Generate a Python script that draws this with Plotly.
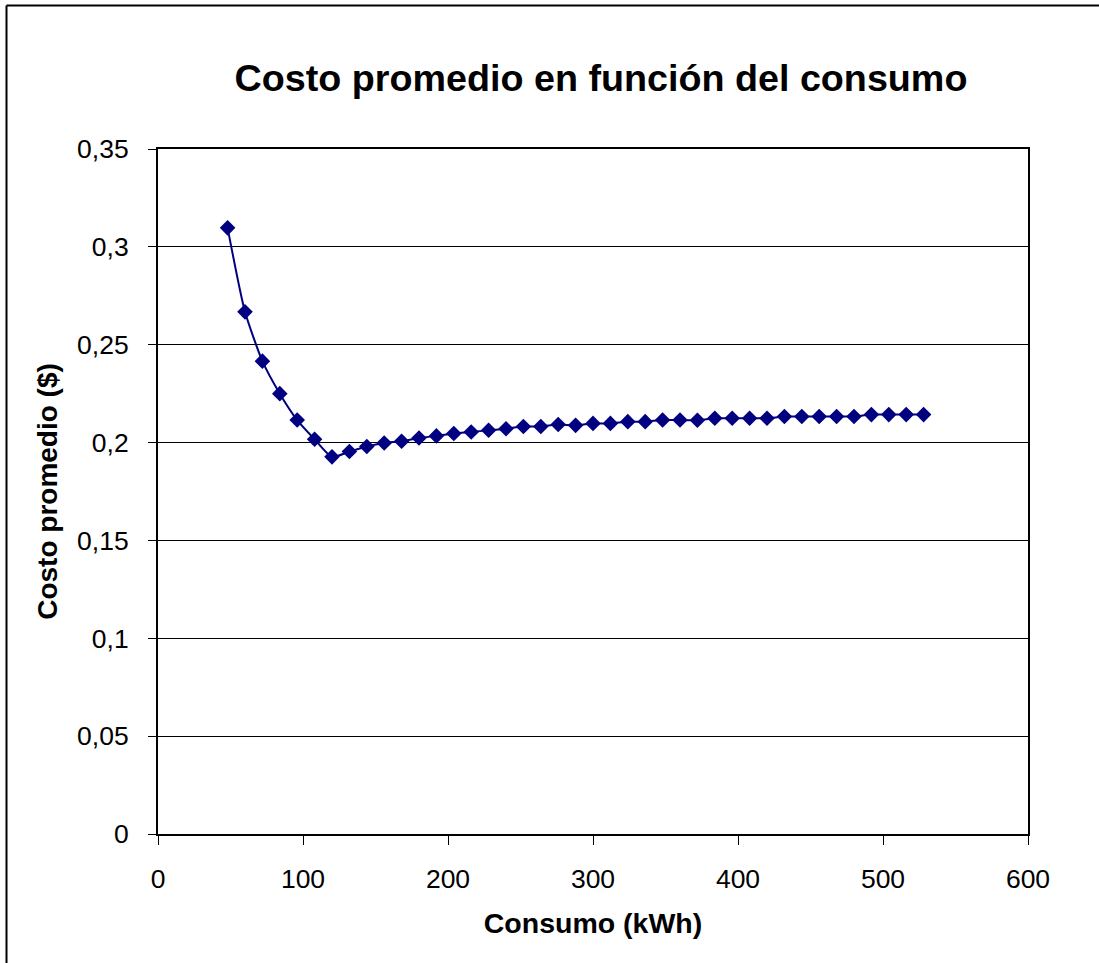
import plotly.graph_objects as go

consumo = [48, 60, 72, 84, 96, 108, 120, 132, 144, 156, 168, 180, 192, 204, 216, 228,
           240, 252, 264, 276, 288, 300, 312, 324, 336, 348, 360, 372, 384, 396, 408,
           420, 432, 444, 456, 468, 480, 492, 504, 516, 528]
costo = [0.3097, 0.2668, 0.2416, 0.2250, 0.2115, 0.2017, 0.1927, 0.1954, 0.1980, 0.1998,
         0.2007, 0.2023, 0.2034, 0.2046, 0.2054, 0.2063, 0.2071, 0.2082, 0.2082, 0.2092,
         0.2088, 0.2098, 0.2098, 0.2107, 0.2107, 0.2115, 0.2115, 0.2114, 0.2124, 0.2124,
         0.2124, 0.2124, 0.2133, 0.2133, 0.2133, 0.2133, 0.2133, 0.2143, 0.2143, 0.2143,
         0.2143]

title_text = "Costo promedio en función del consumo"
x_title = "Consumo (kWh)"
y_title = "Costo promedio ($)"

W, H = 1099, 963
L, R, T, B = 158, 1028, 149, 834
FONT = "Liberation Sans, Arial, sans-serif"
NAVY = "#000080"

fig = go.Figure()
fig.add_trace(go.Scatter(
    x=consumo, y=costo, mode="lines+markers",
    line=dict(color=NAVY, width=2, shape="spline", smoothing=0.6),
    marker=dict(symbol="diamond", size=12, color=NAVY),
    showlegend=False, hoverinfo="x+y",
))

def px_x(p):
    return (p - L) / (R - L)

def px_y(p):
    return (B - p) / (B - T)

fig.update_layout(
    width=W, height=H,
    margin=dict(l=L, r=W - R, t=T, b=H - B),
    paper_bgcolor="white", plot_bgcolor="white",
    separators=",.",
    font=dict(family=FONT, color="black"),
    title=dict(text=title_text, x=601 / W, xanchor="center", xref="container",
               y=1 - 78 / H, yanchor="middle",
               font=dict(size=37.7, family=FONT, color="black", weight="bold")),
    xaxis=dict(range=[0, 600], dtick=100, tick0=0, showgrid=False, zeroline=False,
               showline=True, linecolor="black", linewidth=2, mirror=True,
               ticks="outside", ticklen=9, tickwidth=1, tickcolor="black",
               tickfont=dict(size=26.5, family=FONT, color="black"),
               ticklabelstandoff=11,
               title=dict(text=x_title, font=dict(size=28.5, family=FONT, color="black", weight="bold"),
                          standoff=20)),
    yaxis=dict(range=[0, 0.35], dtick=0.05, tick0=0, showgrid=True, gridcolor="black", gridwidth=1,
               zeroline=False, showline=True, linecolor="black", linewidth=2, mirror=True,
               ticks="outside", ticklen=8, tickwidth=1, tickcolor="black",
               tickfont=dict(size=26.5, family=FONT, color="black"),
               ticklabelstandoff=14,
               title=dict(text=y_title, font=dict(size=28, family=FONT, color="black", weight="bold"),
                          standoff=11)),
    shapes=[
        dict(type="line", xref="paper", yref="paper", x0=px_x(6.5), x1=px_x(6.5), y0=px_y(5.5), y1=px_y(H + 5),
             line=dict(color="black", width=2)),
        dict(type="line", xref="paper", yref="paper", x0=px_x(6.5), x1=px_x(W + 5), y0=px_y(5.5), y1=px_y(5.5),
             line=dict(color="black", width=2)),
    ],
)

fig.write_html("out.html", config={"displayModeBar": False},
               post_script="document.body.style.margin='0';document.body.style.overflow='hidden';")
